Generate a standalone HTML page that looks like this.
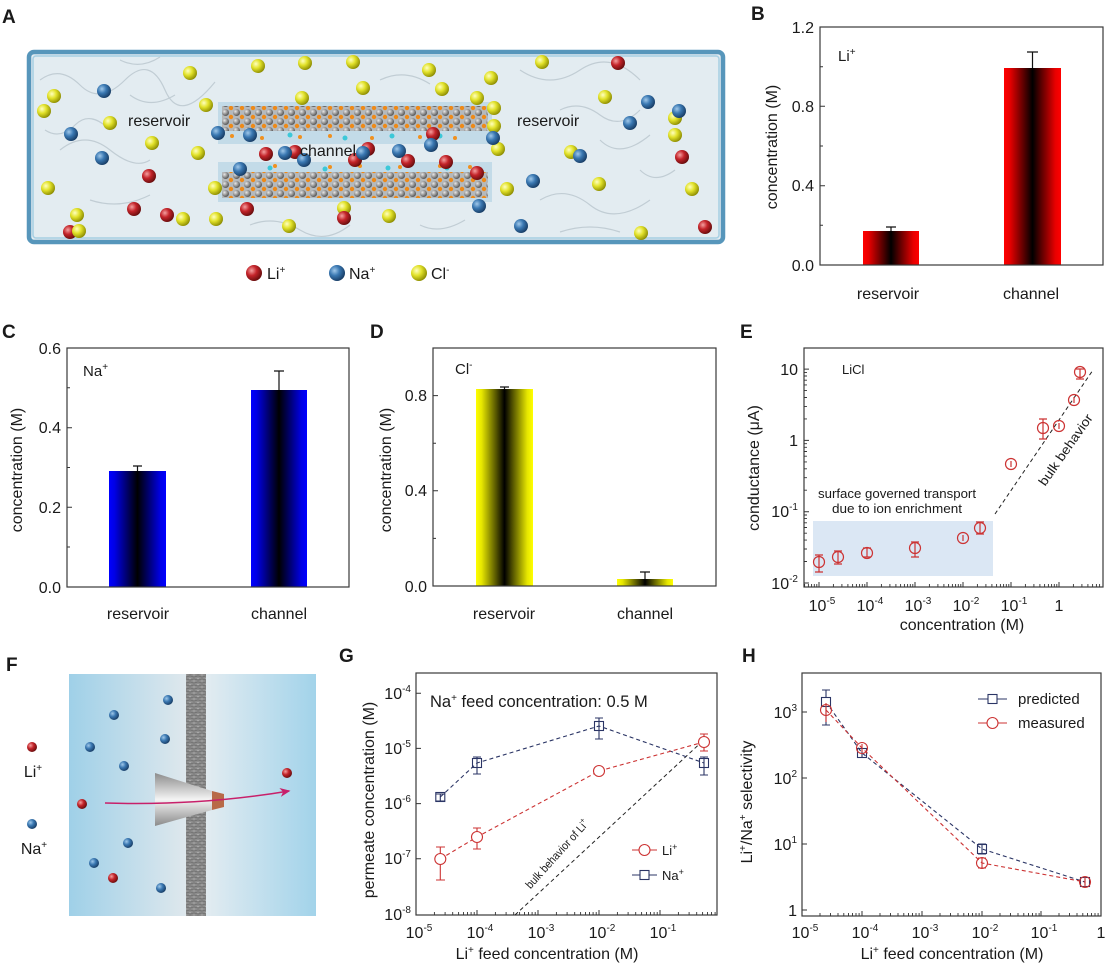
<!DOCTYPE html>
<html><head><meta charset="utf-8"><style>
html,body{margin:0;padding:0;background:#fff;}
svg{display:block;}
text{fill:#1a1a1a;}
</style></head><body>
<svg width="1107" height="966" viewBox="0 0 1107 966" xmlns="http://www.w3.org/2000/svg" font-family="Liberation Sans, Arial, sans-serif">
<defs>
<radialGradient id="gy" cx=".35" cy=".35" r=".7"><stop offset="0" stop-color="#ffffc0"/><stop offset=".45" stop-color="#e2e22a"/><stop offset="1" stop-color="#8a8a00"/></radialGradient>
<radialGradient id="gb" cx=".35" cy=".35" r=".7"><stop offset="0" stop-color="#a0c8ea"/><stop offset=".45" stop-color="#3a78b2"/><stop offset="1" stop-color="#163a62"/></radialGradient>
<radialGradient id="gr" cx=".35" cy=".35" r=".7"><stop offset="0" stop-color="#f4a0a0"/><stop offset=".45" stop-color="#c4242a"/><stop offset="1" stop-color="#640c0c"/></radialGradient>
<radialGradient id="gg" cx=".35" cy=".35" r=".7"><stop offset="0" stop-color="#e8e8e8"/><stop offset=".5" stop-color="#9a9a9a"/><stop offset="1" stop-color="#505050"/></radialGradient>
<linearGradient id="barR" x1="0" x2="1" y1="0" y2="0"><stop offset="0" stop-color="#ff0000"/><stop offset=".1" stop-color="#e80000"/><stop offset=".5" stop-color="#000"/><stop offset=".9" stop-color="#e80000"/><stop offset="1" stop-color="#ff0000"/></linearGradient>
<linearGradient id="barB" x1="0" x2="1" y1="0" y2="0"><stop offset="0" stop-color="#0000ff"/><stop offset=".1" stop-color="#0000e4"/><stop offset=".5" stop-color="#000"/><stop offset=".9" stop-color="#0000e4"/><stop offset="1" stop-color="#0000ff"/></linearGradient>
<linearGradient id="barY" x1="0" x2="1" y1="0" y2="0"><stop offset="0" stop-color="#ffff00"/><stop offset=".1" stop-color="#e6e600"/><stop offset=".5" stop-color="#000"/><stop offset=".9" stop-color="#e6e600"/><stop offset="1" stop-color="#ffff00"/></linearGradient>
<pattern id="atoms" patternUnits="userSpaceOnUse" width="11" height="9">
<rect width="11" height="9" fill="#b4b9bd"/>
<circle cx="5.5" cy="4.5" r="3.5" fill="url(#gg)"/>
<circle cx="0" cy="0" r="2.2" fill="#ee8a18"/><circle cx="11" cy="0" r="2.2" fill="#ee8a18"/>
<circle cx="0" cy="9" r="2.2" fill="#ee8a18"/><circle cx="11" cy="9" r="2.2" fill="#ee8a18"/>
</pattern>
<linearGradient id="fL" x1="0" x2="1" y1="0" y2="0"><stop offset="0" stop-color="#9fd0e8"/><stop offset="1" stop-color="#dfe8ed"/></linearGradient>
<linearGradient id="fR" x1="0" x2="1" y1="0" y2="0"><stop offset="0" stop-color="#e3ecf1"/><stop offset="1" stop-color="#a2d3ea"/></linearGradient>
<linearGradient id="cone" x1="0" x2="0" y1="0" y2="1"><stop offset="0" stop-color="#8c8c8c"/><stop offset=".5" stop-color="#f4f4f4"/><stop offset="1" stop-color="#8a8a8a"/></linearGradient>
<pattern id="mem" patternUnits="userSpaceOnUse" width="8" height="6">
<rect width="8" height="6" fill="#8e8e8e"/>
<path d="M0 1.5q2 -1 4 0t4 0M0 4.5q2 1 4 0t4 0" stroke="#6c6c6c" stroke-width=".8" fill="none"/>
<path d="M1 3h2M5 0.5h2" stroke="#b0b0b0" stroke-width=".7"/>
</pattern>
<marker id="ah" markerWidth="8" markerHeight="8" refX="6" refY="4" orient="auto"><path d="M0 1L7 4L0 7L2 4z" fill="#c8206a"/></marker>
</defs>

<!-- Panel letters -->
<g font-weight="bold" font-size="19">
<text x="2" y="23">A</text>
<text x="751" y="20">B</text>
<text x="2" y="338">C</text>
<text x="370" y="338">D</text>
<text x="740" y="338">E</text>
<text x="6" y="671">F</text>
<text x="339" y="662">G</text>
<text x="742" y="662">H</text>
</g>

<!-- ================= Panel A ================= -->
<rect x="29" y="52" width="694" height="190" rx="5" fill="#e3ecf1" stroke="#5796bb" stroke-width="4.5"/>
<rect x="33" y="56" width="686" height="182" rx="3" fill="none" stroke="#a6cfe3" stroke-width="1.5"/>
<g fill="none" stroke="#bcc8d0" stroke-width="1.2" opacity=".85">
<path d="M40 80q20 -15 40 5t45 -5t40 10t50 -8M60 150q25 -20 50 0t40 10M520 70q30 20 60 0t60 10M540 200q25 -15 50 5t60 -5M90 200q30 10 60 -5M600 140q20 20 50 -5"/>
<path d="M45 130q15 10 30 -5t35 5M130 95q20 15 45 0M560 110q20 -10 40 5t40 -5M640 170q15 15 35 0M250 225q25 -10 50 5t50 -5M420 225q20 10 45 -5M560 232q30 -10 60 0M120 60q20 10 40 -3M380 80q25 -12 50 4"/>
</g>
<!-- channel -->
<rect x="218" y="102" width="274" height="42" fill="#9cc8de" opacity=".45"/>
<rect x="218" y="162" width="274" height="40" fill="#9cc8de" opacity=".45"/>
<rect x="222" y="106" width="266" height="25" fill="url(#atoms)"/>
<rect x="222" y="172" width="266" height="26" fill="url(#atoms)"/>
<g fill="#f0901e">
<circle cx="232" cy="136" r="2"/><circle cx="262" cy="138" r="2"/><circle cx="300" cy="137" r="2"/><circle cx="330" cy="136" r="2"/><circle cx="372" cy="138" r="2"/><circle cx="420" cy="137" r="2"/><circle cx="455" cy="138" r="2"/>
<circle cx="240" cy="167" r="2"/><circle cx="275" cy="166" r="2"/><circle cx="330" cy="167" r="2"/><circle cx="360" cy="166" r="2"/><circle cx="400" cy="167" r="2"/><circle cx="440" cy="166" r="2"/><circle cx="470" cy="167" r="2"/>
</g>
<g fill="#3cc8d8">
<circle cx="246" cy="137" r="2.5"/><circle cx="290" cy="135" r="2.5"/><circle cx="345" cy="138" r="2.5"/><circle cx="392" cy="136" r="2.5"/><circle cx="440" cy="136" r="2.5"/>
<circle cx="270" cy="168" r="2.5"/><circle cx="325" cy="169" r="2.5"/><circle cx="388" cy="168" r="2.5"/><circle cx="447" cy="168" r="2.5"/>
</g>
<!-- ions -->
<g>
<g fill="url(#gy)">
<circle cx="258" cy="66" r="7"/><circle cx="305" cy="63" r="7"/><circle cx="353" cy="62" r="7"/><circle cx="190" cy="73" r="7"/><circle cx="429" cy="70" r="7"/><circle cx="542" cy="62" r="7"/><circle cx="491" cy="78" r="7"/><circle cx="363" cy="88" r="7"/><circle cx="442" cy="89" r="7"/><circle cx="54" cy="96" r="7"/><circle cx="44" cy="111" r="7"/><circle cx="206" cy="105" r="7"/><circle cx="110" cy="123" r="7"/><circle cx="302" cy="98" r="7"/><circle cx="477" cy="98" r="7"/><circle cx="494" cy="108" r="7"/><circle cx="494" cy="126" r="7"/><circle cx="605" cy="97" r="7"/><circle cx="675" cy="118" r="7"/><circle cx="675" cy="135" r="7"/><circle cx="152" cy="143" r="7"/><circle cx="198" cy="153" r="7"/><circle cx="498" cy="149" r="7"/><circle cx="571" cy="152" r="7"/><circle cx="48" cy="188" r="7"/><circle cx="215" cy="188" r="7"/><circle cx="507" cy="189" r="7"/><circle cx="599" cy="184" r="7"/><circle cx="692" cy="189" r="7"/><circle cx="77" cy="215" r="7"/><circle cx="183" cy="219" r="7"/><circle cx="216" cy="219" r="7"/><circle cx="344" cy="208" r="7"/><circle cx="389" cy="216" r="7"/><circle cx="289" cy="226" r="7"/><circle cx="641" cy="233" r="7"/>
</g>
<g fill="url(#gr)">
<circle cx="618" cy="63" r="7"/><circle cx="149" cy="176" r="7"/><circle cx="266" cy="154" r="7"/><circle cx="295" cy="152" r="7"/><circle cx="368" cy="149" r="7"/><circle cx="355" cy="160" r="7"/><circle cx="408" cy="161" r="7"/><circle cx="446" cy="162" r="7"/><circle cx="433" cy="134" r="7"/><circle cx="477" cy="173" r="7"/><circle cx="682" cy="157" r="7"/><circle cx="134" cy="209" r="7"/><circle cx="167" cy="215" r="7"/><circle cx="247" cy="209" r="7"/><circle cx="344" cy="218" r="7"/><circle cx="70" cy="232" r="7"/><circle cx="705" cy="227" r="7"/>
</g>
<g fill="url(#gb)">
<circle cx="104" cy="91" r="7"/><circle cx="71" cy="134" r="7"/><circle cx="102" cy="158" r="7"/><circle cx="648" cy="102" r="7"/><circle cx="679" cy="111" r="7"/><circle cx="630" cy="123" r="7"/><circle cx="218" cy="133" r="7"/><circle cx="250" cy="135" r="7"/><circle cx="431" cy="145" r="7"/><circle cx="493" cy="138" r="7"/><circle cx="580" cy="156" r="7"/><circle cx="285" cy="153" r="7"/><circle cx="304" cy="160" r="7"/><circle cx="399" cy="151" r="7"/><circle cx="363" cy="153" r="7"/><circle cx="240" cy="169" r="7"/><circle cx="533" cy="181" r="7"/><circle cx="479" cy="206" r="7"/><circle cx="521" cy="226" r="7"/>
</g>
<circle cx="79" cy="231" r="7" fill="url(#gy)"/>
</g>
<g font-size="16">
<text x="128" y="126">reservoir</text>
<text x="517" y="126">reservoir</text>
<text x="300" y="156">channel</text>
</g>
<!-- legend A -->
<circle cx="254" cy="273" r="8" fill="url(#gr)"/>
<circle cx="337" cy="273" r="8" fill="url(#gb)"/>
<circle cx="419" cy="273" r="8" fill="url(#gy)"/>
<g font-size="16">
<text x="267" y="279">Li<tspan dy="-6" font-size="10">+</tspan></text>
<text x="349" y="279">Na<tspan dy="-6" font-size="10">+</tspan></text>
<text x="431" y="279">Cl<tspan dy="-6" font-size="10">-</tspan></text>
</g>

<!-- ================= Panel B ================= -->
<rect x="863" y="231" width="56" height="34" fill="url(#barR)"/>
<rect x="1004" y="68" width="57" height="197" fill="url(#barR)"/>
<path d="M891 231V227M886 227H896M1032.5 68V52M1027 52H1038" stroke="#111" stroke-width="1.2" fill="none"/>
<rect x="820" y="27" width="283" height="238" fill="none" stroke="#3a3a3a" stroke-width="1.2"/>
<path d="M820 185.7h5M820 106.3h5M820 225.3h3M820 146h3M820 66.7h3" stroke="#333" stroke-width="1"/>
<g font-size="16" text-anchor="end">
<text x="814" y="33">1.2</text><text x="814" y="112">0.8</text><text x="814" y="191">0.4</text><text x="814" y="271">0.0</text>
</g>
<text x="838" y="61" font-size="15">Li<tspan dy="-6" font-size="10">+</tspan></text>
<g font-size="16" text-anchor="middle">
<text x="888" y="299">reservoir</text><text x="1031" y="299">channel</text>
<text transform="translate(777,147) rotate(-90)">concentration (M)</text>
</g>

<!-- ================= Panel C ================= -->
<rect x="109" y="471" width="57" height="116" fill="url(#barB)"/>
<rect x="251" y="390" width="56" height="197" fill="url(#barB)"/>
<path d="M137.5 471V466M133 466h9M279 390V371M274 371h10" stroke="#111" stroke-width="1.2" fill="none"/>
<rect x="67" y="348" width="282" height="239" fill="none" stroke="#3a3a3a" stroke-width="1.2"/>
<path d="M67 507.3h5M67 427.7h5M67 547h3M67 467.5h3M67 387.8h3" stroke="#333" stroke-width="1"/>
<g font-size="16" text-anchor="end">
<text x="61" y="354">0.6</text><text x="61" y="433">0.4</text><text x="61" y="513">0.2</text><text x="61" y="593">0.0</text>
</g>
<text x="83" y="376" font-size="15">Na<tspan dy="-6" font-size="10">+</tspan></text>
<g font-size="16" text-anchor="middle">
<text x="138" y="619">reservoir</text><text x="279" y="619">channel</text>
<text transform="translate(22,470) rotate(-90)">concentration (M)</text>
</g>

<!-- ================= Panel D ================= -->
<rect x="476" y="389" width="57" height="197" fill="url(#barY)"/>
<rect x="617" y="579" width="56" height="7" fill="url(#barY)"/>
<path d="M504.5 389V387M500 387h9M645 579V572M640 572h10" stroke="#111" stroke-width="1.2" fill="none"/>
<rect x="433" y="348" width="283" height="238" fill="none" stroke="#3a3a3a" stroke-width="1.2"/>
<path d="M433 490.8h5M433 395.6h5M433 538.4h3M433 443.2h3" stroke="#333" stroke-width="1"/>
<g font-size="16" text-anchor="end">
<text x="427" y="401">0.8</text><text x="427" y="496">0.4</text><text x="427" y="592">0.0</text>
</g>
<text x="455" y="374" font-size="15">Cl<tspan dy="-6" font-size="10">-</tspan></text>
<g font-size="16" text-anchor="middle">
<text x="504" y="619">reservoir</text><text x="645" y="619">channel</text>
<text transform="translate(391,470) rotate(-90)">concentration (M)</text>
</g>

<!-- ================= Panel E ================= -->
<rect x="813" y="521" width="180" height="55" fill="#dbe7f4"/>
<rect x="804" y="348" width="299" height="239" fill="none" stroke="#3a3a3a" stroke-width="1.2"/>
<path d="M819 587v-5M867 587v-5M915 587v-5M963 587v-5M1011 587v-5M1059 587v-5" stroke="#333" stroke-width="1"/>
<path d="M804.6 587v-3M808.4 587v-3M811.6 587v-3M814.3 587v-3M816.8 587v-3M833.4 587v-3M841.9 587v-3M847.9 587v-3M852.6 587v-3M856.4 587v-3M859.6 587v-3M862.3 587v-3M864.8 587v-3M881.4 587v-3M889.9 587v-3M895.9 587v-3M900.6 587v-3M904.4 587v-3M907.6 587v-3M910.3 587v-3M912.8 587v-3M929.4 587v-3M937.9 587v-3M943.9 587v-3M948.6 587v-3M952.4 587v-3M955.6 587v-3M958.3 587v-3M960.8 587v-3M977.4 587v-3M985.9 587v-3M991.9 587v-3M996.6 587v-3M1000.4 587v-3M1003.6 587v-3M1006.3 587v-3M1008.8 587v-3M1025.4 587v-3M1033.9 587v-3M1039.9 587v-3M1044.6 587v-3M1048.4 587v-3M1051.6 587v-3M1054.3 587v-3M1056.8 587v-3M1073.4 587v-3M1081.9 587v-3M1087.9 587v-3M1092.6 587v-3M1096.4 587v-3M1099.6 587v-3" stroke="#333" stroke-width=".9"/>
<path d="M804 583h5M804 511.7h5M804 440.4h5M804 369.1h5" stroke="#333" stroke-width="1"/>
<path d="M804 561.5h3M804 549h3M804 540.1h3M804 533.2h3M804 527.5h3M804 522.8h3M804 518.6h3M804 515h3M804 490.2h3M804 477.7h3M804 468.8h3M804 461.9h3M804 456.2h3M804 451.5h3M804 447.3h3M804 443.7h3M804 418.9h3M804 406.4h3M804 397.5h3M804 390.6h3M804 384.9h3M804 380.2h3M804 376h3M804 372.4h3" stroke="#333" stroke-width=".9"/>
<g font-size="16" text-anchor="end">
<text x="798" y="375">10</text>
<text x="798" y="446">1</text>
<text x="798" y="517">10<tspan dy="-7" font-size="10">-1</tspan></text>
<text x="798" y="589">10<tspan dy="-7" font-size="10">-2</tspan></text>
</g>
<g font-size="16" text-anchor="middle">
<text x="822" y="611">10<tspan dy="-7" font-size="10">-5</tspan></text>
<text x="870" y="611">10<tspan dy="-7" font-size="10">-4</tspan></text>
<text x="918" y="611">10<tspan dy="-7" font-size="10">-3</tspan></text>
<text x="966" y="611">10<tspan dy="-7" font-size="10">-2</tspan></text>
<text x="1014" y="611">10<tspan dy="-7" font-size="10">-1</tspan></text>
<text x="1059" y="611">1</text>
<text x="962" y="630">concentration (M)</text>
<text transform="translate(759,468) rotate(-90)">conductance (μA)</text>
</g>
<text x="842" y="374" font-size="13">LiCl</text>
<g font-size="13" text-anchor="middle">
<text x="897" y="498" textLength="158" lengthAdjust="spacingAndGlyphs">surface governed transport</text>
<text x="897" y="513" textLength="130" lengthAdjust="spacingAndGlyphs">due to ion enrichment</text>
<text transform="translate(1066,450) rotate(-55)" y="4" textLength="84" lengthAdjust="spacingAndGlyphs">bulk behavior</text>
</g>
<path d="M995 514L1093 370" stroke="#222" stroke-width="1" stroke-dasharray="4 3" fill="none"/>
<g stroke="#cc3333" stroke-width="1.2" fill="none">
<path d="M819 555V572M815 555h8M815 572h8M838 551V564M834 551h8M834 564h8M867 548V557M863 548h8M863 557h8M915 542V557M911 542h8M911 557h8M963 535V541M980 522V534M976 522h8M976 534h8M1011 461V467M1043 419V439M1039 419h8M1039 439h8M1059 423V429M1074 397V403M1080 369V379M1076 369h8M1076 379h8"/>
<circle cx="819" cy="562" r="5.5"/><circle cx="838" cy="557" r="5.5"/><circle cx="867" cy="553" r="5.5"/><circle cx="915" cy="548" r="5.5"/><circle cx="963" cy="538" r="5.5"/><circle cx="980" cy="528" r="5.5"/><circle cx="1011" cy="464" r="5.5"/><circle cx="1043" cy="428" r="5.5"/><circle cx="1059" cy="426" r="5.5"/><circle cx="1074" cy="400" r="5.5"/><circle cx="1080" cy="372" r="5.5"/>
</g>

<!-- ================= Panel F ================= -->
<rect x="69" y="674" width="118" height="242" fill="url(#fL)"/>
<rect x="205" y="674" width="111" height="242" fill="url(#fR)"/>
<rect x="186" y="674" width="20" height="242" fill="url(#mem)"/>
<polygon points="155,773 212,791 212,810 155,826" fill="url(#cone)"/>
<polygon points="212,791 224,794 224,807 212,810" fill="#b86a48"/>
<path d="M105 803Q200 806 289 791" stroke="#c8206a" stroke-width="1.5" fill="none" marker-end="url(#ah)"/>
<g fill="url(#gb)">
<circle cx="168" cy="700" r="5"/><circle cx="114" cy="715" r="5"/><circle cx="90" cy="747" r="5"/><circle cx="165" cy="739" r="5"/><circle cx="124" cy="766" r="5"/><circle cx="128" cy="843" r="5"/><circle cx="94" cy="863" r="5"/><circle cx="161" cy="888" r="5"/>
<circle cx="32" cy="824" r="5"/>
</g>
<g fill="url(#gr)">
<circle cx="82" cy="804" r="5"/><circle cx="113" cy="878" r="5"/><circle cx="287" cy="773" r="5"/>
<circle cx="32" cy="747" r="5"/>
</g>
<g font-size="16" text-anchor="middle">
<text x="33" y="777">Li<tspan dy="-6" font-size="10">+</tspan></text>
<text x="34" y="854">Na<tspan dy="-6" font-size="10">+</tspan></text>
</g>

<!-- ================= Panel G ================= -->
<rect x="416" y="673" width="301" height="242" fill="none" stroke="#3a3a3a" stroke-width="1.2"/>
<path d="M477 915v-5M538 915v-5M599 915v-5M660 915v-5" stroke="#333" stroke-width="1"/>
<path d="M434.4 915v-3M445.1 915v-3M452.7 915v-3M458.6 915v-3M463.5 915v-3M467.5 915v-3M471.1 915v-3M474.2 915v-3M495.4 915v-3M506.1 915v-3M513.7 915v-3M519.6 915v-3M524.5 915v-3M528.5 915v-3M532.1 915v-3M535.2 915v-3M556.4 915v-3M567.1 915v-3M574.7 915v-3M580.6 915v-3M585.5 915v-3M589.5 915v-3M593.1 915v-3M596.2 915v-3M617.4 915v-3M628.1 915v-3M635.7 915v-3M641.6 915v-3M646.5 915v-3M650.5 915v-3M654.1 915v-3M657.2 915v-3M678.4 915v-3M689.1 915v-3M696.7 915v-3M702.6 915v-3M707.5 915v-3M711.5 915v-3M715.1 915v-3" stroke="#333" stroke-width=".9"/>
<path d="M416 858.8h5M416 803.6h5M416 748.4h5M416 693.2h5" stroke="#333" stroke-width="1"/>
<g font-size="16" text-anchor="end">
<text x="411" y="699">10<tspan dy="-7" font-size="10">-4</tspan></text>
<text x="411" y="754">10<tspan dy="-7" font-size="10">-5</tspan></text>
<text x="411" y="809">10<tspan dy="-7" font-size="10">-6</tspan></text>
<text x="411" y="864">10<tspan dy="-7" font-size="10">-7</tspan></text>
<text x="411" y="920">10<tspan dy="-7" font-size="10">-8</tspan></text>
</g>
<g font-size="16" text-anchor="middle">
<text x="419" y="938">10<tspan dy="-7" font-size="10">-5</tspan></text>
<text x="480" y="938">10<tspan dy="-7" font-size="10">-4</tspan></text>
<text x="541" y="938">10<tspan dy="-7" font-size="10">-3</tspan></text>
<text x="602" y="938">10<tspan dy="-7" font-size="10">-2</tspan></text>
<text x="663" y="938">10<tspan dy="-7" font-size="10">-1</tspan></text>
<text x="547" y="959">Li<tspan dy="-6" font-size="10">+</tspan><tspan dy="6"> feed concentration (M)</tspan></text>
<text transform="translate(374,800) rotate(-90)">permeate concentration (M)</text>
</g>
<text x="430" y="707" font-size="16.5">Na<tspan dy="-6" font-size="10">+</tspan><tspan dy="6"> feed concentration: 0.5 M</tspan></text>
<path d="M515 915L707 737" stroke="#222" stroke-width="1" stroke-dasharray="4 3" fill="none"/>
<text transform="translate(557,854) rotate(-48)" y="4" font-size="11.5" text-anchor="middle" textLength="88" lengthAdjust="spacingAndGlyphs">bulk behavior of Li<tspan dy="-5" font-size="8">+</tspan></text>
<g stroke="#2b3565" stroke-width="1.1" fill="none">
<path d="M440.3 797L477 763L599 726L704 763" stroke-dasharray="4 3"/>
<path d="M440.3 794V801M436 794h9M436 801h9M477 757V774M473 757h8M473 774h8M599 718V739M595 718h8M595 739h8M704 757V775M700 757h8M700 775h8"/>
<rect x="435.8" y="792.5" width="9" height="9"/><rect x="472.5" y="758.5" width="9" height="9"/><rect x="594.5" y="721.5" width="9" height="9"/><rect x="699.5" y="758.5" width="9" height="9"/>
</g>
<g stroke="#cc3333" stroke-width="1.1" fill="none">
<path d="M440.3 859L477 837L599 771L704 742" stroke-dasharray="4 3"/>
<path d="M440.3 847V880M436 847h9M436 880h9M477 828V849M473 828h8M473 849h8M599 768V774M704 734V751M700 734h8M700 751h8"/>
<circle cx="440.3" cy="859" r="5.5" fill="#fff"/><circle cx="477" cy="837" r="5.5" fill="#fff"/><circle cx="599" cy="771" r="5.5" fill="#fff"/><circle cx="704" cy="742" r="5.5" fill="#fff"/>
</g>
<path d="M632 850H657" stroke="#cc3333" stroke-width="1.1"/><circle cx="644.5" cy="850" r="5.5" fill="#fff" stroke="#cc3333" stroke-width="1.1"/>
<path d="M632 875H657" stroke="#2b3565" stroke-width="1.1"/><rect x="640" y="870.5" width="9" height="9" fill="#fff" stroke="#2b3565" stroke-width="1.1"/>
<g font-size="13">
<text x="662" y="855">Li<tspan dy="-5" font-size="9">+</tspan></text>
<text x="662" y="880">Na<tspan dy="-5" font-size="9">+</tspan></text>
</g>

<!-- ================= Panel H ================= -->
<rect x="802" y="673" width="299" height="243" fill="none" stroke="#3a3a3a" stroke-width="1.2"/>
<path d="M862 916v-5M922 916v-5M982 916v-5M1041 916v-5" stroke="#333" stroke-width="1"/>
<path d="M820 916v-3M830.5 916v-3M838 916v-3M843.8 916v-3M848.5 916v-3M852.5 916v-3M856 916v-3M859.1 916v-3M880 916v-3M890.5 916v-3M898 916v-3M903.8 916v-3M908.5 916v-3M912.5 916v-3M916 916v-3M919.1 916v-3M940 916v-3M950.5 916v-3M958 916v-3M963.8 916v-3M968.5 916v-3M972.5 916v-3M976 916v-3M979.1 916v-3M1000 916v-3M1010.5 916v-3M1018 916v-3M1023.8 916v-3M1028.5 916v-3M1032.5 916v-3M1036 916v-3M1039.1 916v-3M1059 916v-3M1069.5 916v-3M1077 916v-3M1082.8 916v-3M1087.5 916v-3M1091.5 916v-3M1095 916v-3M1098.1 916v-3" stroke="#333" stroke-width=".9"/>
<path d="M802 910h5M802 844h5M802 778h5M802 712h5" stroke="#333" stroke-width="1"/>
<g font-size="16" text-anchor="end">
<text x="797" y="718">10<tspan dy="-7" font-size="10">3</tspan></text>
<text x="797" y="784">10<tspan dy="-7" font-size="10">2</tspan></text>
<text x="797" y="850">10<tspan dy="-7" font-size="10">1</tspan></text>
<text x="797" y="916">1</text>
</g>
<g font-size="16" text-anchor="middle">
<text x="805" y="938">10<tspan dy="-7" font-size="10">-5</tspan></text>
<text x="865" y="938">10<tspan dy="-7" font-size="10">-4</tspan></text>
<text x="925" y="938">10<tspan dy="-7" font-size="10">-3</tspan></text>
<text x="985" y="938">10<tspan dy="-7" font-size="10">-2</tspan></text>
<text x="1044" y="938">10<tspan dy="-7" font-size="10">-1</tspan></text>
<text x="1101" y="938">1</text>
<text x="952" y="959">Li<tspan dy="-6" font-size="10">+</tspan><tspan dy="6"> feed concentration (M)</tspan></text>
<text transform="translate(752,802) rotate(-90)">Li<tspan dy="-6" font-size="10">+</tspan><tspan dy="6">/Na</tspan><tspan dy="-6" font-size="10">+</tspan><tspan dy="6"> selectivity</tspan></text>
</g>
<g stroke="#2b3565" stroke-width="1.1" fill="none">
<path d="M826 702L862 753L982 849L1085 882" stroke-dasharray="4 3"/>
<path d="M826 690V725M822 690h8M822 725h8M862 750V757M982 844V854M978 844h8M978 854h8M1085 879V885"/>
<rect x="821.5" y="697.5" width="9" height="9" fill="#fff"/><rect x="857.5" y="748.5" width="9" height="9"/><rect x="977.5" y="844.5" width="9" height="9"/><rect x="1080.5" y="877.5" width="9" height="9"/>
</g>
<g stroke="#cc3333" stroke-width="1.1" fill="none">
<path d="M826 710L862 748L982 863L1085 882" stroke-dasharray="4 3"/>
<path d="M826 703V722M862 744V752M982 858V868M978 858h8M978 868h8M1085 877V887"/>
<circle cx="826" cy="710" r="5.5"/><circle cx="862" cy="748" r="5.5"/><circle cx="982" cy="863" r="5.5"/><circle cx="1085" cy="882" r="5.5"/>
</g>
<path d="M978 699H1007" stroke="#2b3565" stroke-width="1.1"/><rect x="988" y="694.5" width="9" height="9" fill="#fff" stroke="#2b3565" stroke-width="1.1"/>
<path d="M978 723H1007" stroke="#cc3333" stroke-width="1.1"/><circle cx="992.5" cy="723" r="5.5" fill="#fff" stroke="#cc3333" stroke-width="1.1"/>
<g font-size="15">
<text x="1018" y="704">predicted</text>
<text x="1018" y="728">measured</text>
</g>
</svg>
</body></html>
